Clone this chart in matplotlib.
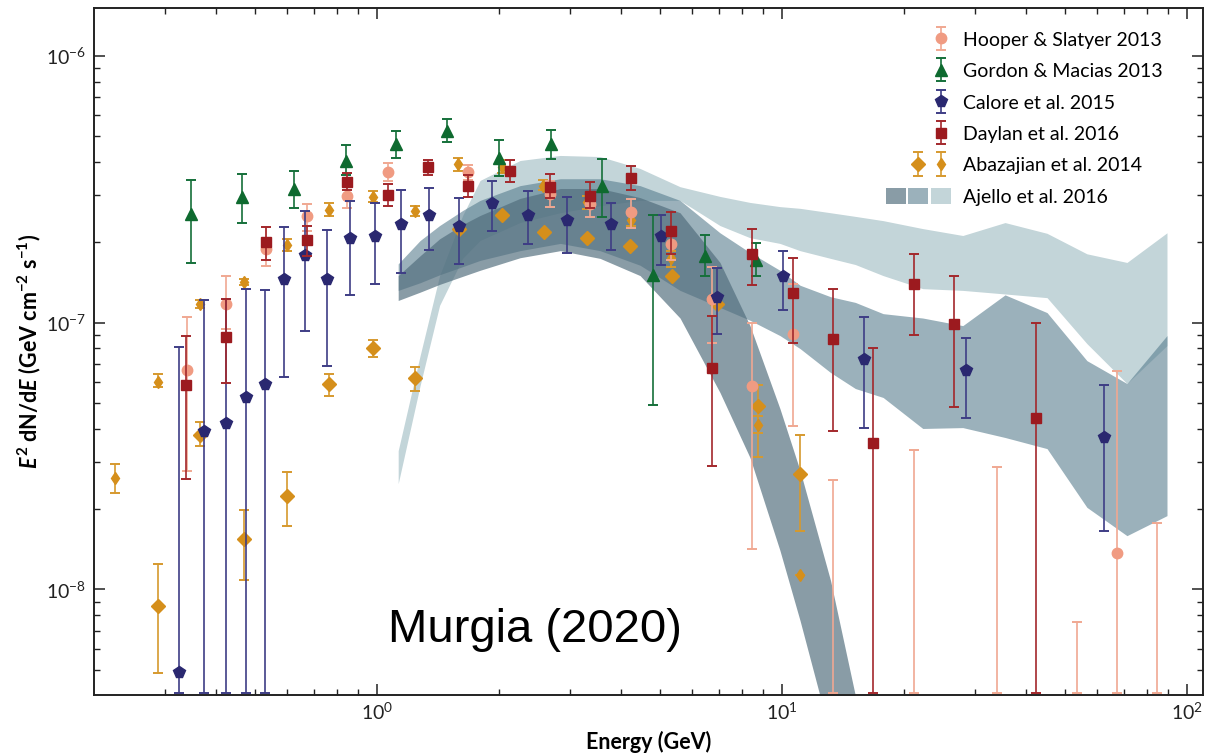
import numpy as np
import matplotlib
matplotlib.use("Agg")
import matplotlib.pyplot as plt
from matplotlib.legend_handler import HandlerTuple, HandlerErrorbar
from matplotlib.container import ErrorbarContainer
from matplotlib.patches import Patch
from matplotlib.lines import Line2D

plt.rcParams['font.family'] = ['Lato', 'DejaVu Sans']
plt.rcParams['mathtext.fontset'] = 'custom'
plt.rcParams['mathtext.it'] = 'Lato:italic:bold'
plt.rcParams['mathtext.bf'] = 'Lato:bold'
plt.rcParams['mathtext.rm'] = 'Lato:bold'

S = 1e-7          # flux unit of the arrays below (GeV cm^-2 s^-1)
YMIN, YMAX = 4.02e-9, 1.506e-6
XMIN, XMAX = 0.2008, 109.9
FLOOR = 4.1e-9    # error bars reaching the bottom of the frame

# ---------------- Hooper & Slatyer 2013 ----------------
hs_E  = [0.340, 0.425, 0.533, 0.674, 0.846, 1.066, 1.684, 2.679, 3.362, 4.238, 5.331, 6.718, 8.461, 10.65, 67.18]
hs_y  = [0.665, 1.17, 1.88, 2.50, 2.97, 3.66, 3.66, 3.03, 2.78, 2.59, 1.97, 1.23, 0.576, 0.907, 0.137]
hs_hi = [1.05, 1.50, 2.28, 2.78, 3.32, 3.97, 3.88, 3.38, 3.08, 2.91, 2.21, 1.61, 0.997, 1.40, 0.661]
hs_lo = [0.277, 0.95, 1.63, 2.21, 2.69, 3.38, 3.41, 2.72, 2.49, 2.26, 1.71, 0.839, 0.142, 0.411, 0.0]
hs_ul_E = [13.41, 21.26, 33.95, 53.52, 84.61]
hs_ul   = [0.256, 0.333, 0.287, 0.0757, 0.178]

# ---------------- Gordon & Macias 2013 ----------------
gm_E  = [0.347, 0.466, 0.625, 0.839, 1.116, 1.494, 2.004, 2.689, 3.606, 4.819, 6.466, 8.626]
gm_y  = [2.56, 2.95, 3.17, 4.02, 4.68, 5.21, 4.14, 4.68, 3.26, 1.51, 1.78, 1.71]
gm_hi = [3.43, 3.59, 3.69, 4.62, 5.21, 5.80, 4.85, 5.28, 4.11, 2.54, 2.12, 1.98]
gm_lo = [1.67, 2.36, 2.69, 3.56, 4.14, 4.74, 3.53, 4.11, 2.48, 0.489, 1.50, 1.49]

# ---------------- Calore et al. 2015 ----------------
ca_E  = [0.325, 0.375, 0.425, 0.476, 0.530, 0.591, 0.665, 0.754, 0.858, 0.989, 1.146, 1.346,
         1.597, 1.923, 2.360, 2.956, 3.789, 5.025, 6.912, 10.09, 15.97, 28.48, 62.50]
ca_y  = [0.0489, 0.394, 0.421, 0.528, 0.589, 1.46, 1.79, 1.46, 2.07, 2.11, 2.34, 2.54,
         2.30, 2.80, 2.54, 2.43, 2.34, 2.11, 1.25, 1.49, 0.731, 0.665, 0.373]
ca_hi = [0.813, 1.21, 1.23, 1.34, 1.33, 2.29, 2.63, 2.23, 2.85, 2.80, 3.13, 3.20,
         2.93, 3.39, 3.10, 2.95, 2.80, 2.54, 1.60, 1.86, 1.05, 0.876, 0.581]
ca_lo = [0.0, 0.0, 0.0, 0.0, 0.0, 0.627, 0.928, 0.690, 1.27, 1.40, 1.54, 1.87,
         1.66, 2.21, 1.97, 1.83, 1.87, 1.65, 0.907, 1.11, 0.402, 0.439, 0.165]

# ---------------- Daylan et al. 2016 ----------------
da_E  = [0.3375, 0.425, 0.533, 0.674, 0.846, 1.066, 1.341, 1.684, 2.130, 2.679, 3.362, 4.238,
         5.331, 6.718, 8.461, 10.65, 13.41, 16.84, 21.26, 26.68, 42.40]
da_y  = [0.581, 0.881, 2.00, 2.04, 3.36, 3.01, 3.82, 3.26, 3.69, 3.23, 2.99, 3.49,
         2.21, 0.678, 1.81, 1.29, 0.869, 0.353, 1.39, 0.989, 0.438]
da_hi = [0.894, 1.23, 2.28, 2.31, 3.63, 3.31, 4.07, 3.56, 4.05, 3.59, 3.36, 3.86,
         2.59, 1.06, 2.24, 1.74, 1.34, 0.804, 1.81, 1.50, 0.994]
da_lo = [0.260, 0.592, 1.72, 1.77, 3.13, 2.74, 3.56, 2.95, 3.36, 2.93, 2.69, 3.13,
         1.80, 0.291, 1.38, 0.837, 0.392, 0.0, 0.900, 0.481, 0.0]

# ---------------- Abazajian et al. 2014 (two sets) ----------------
abs_E  = [0.226, 0.289, 0.366, 0.471, 0.599, 0.764, 0.978, 1.243, 1.591, 2.035, 2.579, 3.301, 4.238, 5.331, 8.725, 11.10]
abs_y  = [0.261, 0.601, 1.17, 1.42, 1.96, 2.65, 2.95, 2.61, 3.93, 3.84, 3.26, 2.82, 2.43, 1.74, 0.414, 0.113]
abs_hi = [0.296, 0.641, 1.22, 1.46, 2.06, 2.80, 3.10, 2.74, 4.15, 4.05, 3.41, 2.97, 2.56, 1.86, 0.448, 0.113]
abs_lo = [0.230, 0.573, 1.13, 1.38, 1.86, 2.50, 2.82, 2.50, 3.71, 3.65, 3.13, 2.67, 2.31, 1.62, 0.314, 0.113]

abl_E  = [0.289, 0.366, 0.471, 0.599, 0.764, 0.978, 1.243, 1.597, 2.035, 2.589, 3.311, 4.221, 5.352, 6.912, 8.725, 11.10]
abl_y  = [0.0863, 0.380, 0.154, 0.224, 0.589, 0.801, 0.618, 2.24, 2.52, 2.19, 2.08, 1.94, 1.50, 1.17, 0.488, 0.271]
abl_hi = [0.125, 0.423, 0.198, 0.275, 0.641, 0.862, 0.684, 2.24, 2.52, 2.19, 2.08, 1.94, 1.50, 1.17, 0.584, 0.378]
abl_lo = [0.0484, 0.344, 0.108, 0.173, 0.531, 0.741, 0.556, 2.24, 2.52, 2.19, 2.08, 1.94, 1.50, 1.17, 0.387, 0.166]

# ---------------- Ajello et al. 2016 bands ----------------
ajA_E  = [1.13, 1.28, 1.43, 1.63, 1.80, 2.26, 2.84, 3.56, 4.47, 5.61, 7.04, 8.35, 9.90, 11.1, 13.2, 15.2, 16.5]
ajA_hi = [1.50, 1.78, 2.06, 2.33, 2.52, 2.92, 3.18, 3.18, 2.94, 2.58, 1.68, 0.974, 0.476, 0.279, 0.108, 0.040, 0.0192]
ajA_lo = [1.21, 1.30, 1.39, 1.49, 1.57, 1.75, 1.86, 1.74, 1.50, 1.04, 0.547, 0.312, 0.140, 0.0764, 0.0283, 0.0114, 0.0068]

ajBC_E = [1.13, 1.28, 1.43, 1.63, 1.80, 2.26, 2.84, 3.56, 4.47, 5.61, 7.04, 8.35, 9.90, 11.1,
          13.2, 15.2, 17.8, 22.3, 28.0, 35.6, 45.2, 56.7, 71.2, 89.4]
ajB_hi = [1.66, 2.03, 2.31, 2.63, 2.87, 3.26, 3.46, 3.46, 3.26, 2.87, 2.17, 1.83, 1.57, 1.38,
          1.25, 1.19, 1.08, 1.04, 0.974, 1.27, 1.09, 0.720, 0.591, 0.894]
ajB_lo = [1.32, 1.41, 1.51, 1.62, 1.71, 1.86, 1.98, 1.86, 1.64, 1.32, 1.14, 1.02, 0.894, 0.799,
          0.650, 0.566, 0.524, 0.401, 0.404, 0.371, 0.337, 0.203, 0.159, 0.189]
ajC_hi = [0.331, 0.752, 1.50, 2.52, 3.41, 4.05, 4.23, 4.19, 3.78, 3.23, 2.97, 2.82, 2.72, 2.68,
          2.58, 2.50, 2.41, 2.25, 2.12, 2.37, 2.16, 1.81, 1.68, 2.17]
ajC_lo = [0.249, 0.581, 1.16, 1.74, 2.03, 2.37, 2.58, 2.74, 2.87, 2.87, 2.31, 2.08, 1.98, 1.86,
          1.74, 1.65, 1.50, 1.34, 1.32, 1.28, 1.24, 0.834, 0.591, 0.820]

labels = ["Hooper & Slatyer 2013", "Gordon & Macias 2013", "Calore et al. 2015",
          "Daylan et al. 2016", "Abazajian et al. 2014", "Ajello et al. 2016"]

# ---------------- figure ----------------
fig = plt.figure(figsize=(12.17, 7.55), dpi=100)
ax = fig.add_axes([0.07749, 0.07947, 0.91126, 0.90954])
ax.set_xscale('log')
ax.set_yscale('log')
ax.set_xlim(XMIN, XMAX)
ax.set_ylim(YMIN, YMAX)

colA, aA = '#516D7C', 0.68
colB, aB = '#587D8E', 0.60
colC, aC = '#6996A0', 0.40
ax.fill_between(ajBC_E, np.array(ajC_lo) * S, np.array(ajC_hi) * S, color=colC, alpha=aC, lw=0, zorder=1)
ax.fill_between(ajBC_E, np.array(ajB_lo) * S, np.array(ajB_hi) * S, color=colB, alpha=aB, lw=0, zorder=1.1)
ax.fill_between(ajA_E, np.array(ajA_lo) * S, np.array(ajA_hi) * S, color=colA, alpha=aA, lw=0, zorder=1.2)


def series(E, y, lo, hi, marker, mcol, ecol, ms, z):
    y = np.array(y); lo = np.array(lo, dtype=float); hi = np.array(hi)
    lo = np.where(lo <= 0, FLOOR / S, lo)
    return ax.errorbar(E, y * S, yerr=[(y - lo) * S, (hi - y) * S], fmt=marker, ms=ms,
                       mfc=mcol, mec=mcol, ecolor=ecol, elinewidth=1.2,
                       capsize=3.8, capthick=1.4, zorder=z)


h_ab_big = series(abl_E, abl_y, abl_lo, abl_hi, 'D', '#D58F1B', '#D6992E', 7.5, 3)
h_ab_sm = series(abs_E, abs_y, abs_lo, abs_hi, 'd', '#D58F1B', '#D6992E', 6.5, 3.1)
h_hs = series(hs_E, hs_y, hs_lo, hs_hi, 'o', '#F09B82', '#F0A892', 7.5, 4)
ul = np.array(hs_ul)
ax.errorbar(hs_ul_E, ul * S, yerr=[ul * S - FLOOR, np.zeros_like(ul)], fmt='none',
            ecolor='#F0A892', elinewidth=1.2, capsize=3.8, capthick=1.4, zorder=4)
h_ca = series(ca_E, ca_y, ca_lo, ca_hi, 'p', '#2A2870', '#3E3D85', 8.5, 5)
h_gm = series(gm_E, gm_y, gm_lo, gm_hi, '^', '#0E6A2F', '#15703A', 8, 6)
h_da = series(da_E, da_y, da_lo, da_hi, 's', '#9C1A1F', '#A3282C', 7.5, 7)

# ---------------- axes styling ----------------
for sp in ax.spines.values():
    sp.set_linewidth(1.4)
    sp.set_color('#222222')
ax.tick_params(which='both', direction='in', top=True, right=True, colors='#222222')
ax.tick_params(which='major', length=8, width=1.1, labelsize=14, pad=6)
ax.tick_params(which='minor', length=4.5, width=1.0)
ax.tick_params(axis='x', which='major', pad=5)

ax.set_xlabel('Energy (GeV)', fontsize=15.5, fontweight='bold')
ax.xaxis.set_label_coords(0.5, -0.053)
ax.set_ylabel(r'$E^{2}$ dN/d$E$ (GeV cm$^{-2}$ s$^{-1}$)', fontsize=15.5, fontweight='bold')
ax.yaxis.set_label_coords(-0.046, 0.5)

ax.text(0.2648, 0.0772, 'Murgia (2020)', transform=ax.transAxes, fontsize=34,
        family='Liberation Sans', va='baseline', ha='left', zorder=10)

# ---------------- legend ----------------
blank = Line2D([], [], ls='none', marker='')
pA = Patch(facecolor=colA, alpha=aA, lw=0)
pB = Patch(facecolor=colB, alpha=aB, lw=0)
pC = Patch(facecolor=colC, alpha=aC, lw=0)
handles = [(blank, blank, h_hs), (blank, blank, h_gm), (blank, blank, h_ca),
           (blank, blank, h_da), (blank, h_ab_big, h_ab_sm), (pA, pB, pC)]
fs = 14
leg = ax.legend(handles, labels,
                handler_map={tuple: HandlerTuple(ndivide=3, pad=1.8 / fs),
                             ErrorbarContainer: HandlerErrorbar(yerr_size=8.4 / fs)},
                loc='upper right', bbox_to_anchor=(0.963, 0.967), frameon=False,
                fontsize=fs, handlelength=46.8 / fs, handleheight=0.88,
                handletextpad=0.6, labelspacing=0.71, borderpad=0, borderaxespad=0)
leg.set_zorder(12)

fig.savefig('out.png', dpi=100)
